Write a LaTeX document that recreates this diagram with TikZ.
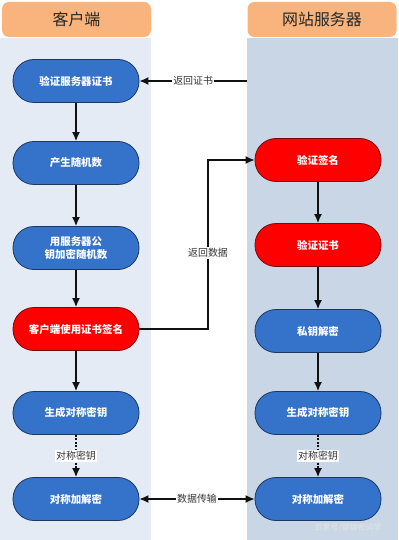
\documentclass[tikz,border=0pt]{standalone}
\usepackage{fontspec}
\setmainfont{Noto Sans CJK SC}
\usetikzlibrary{arrows.meta}
\definecolor{laneleft}{HTML}{E4EBF5}
\definecolor{laneright}{HTML}{C9D6E6}
\definecolor{headfill}{HTML}{F8B47C}
\definecolor{stepblue}{HTML}{3572C9}
\definecolor{stepblueline}{HTML}{1C3760}
\definecolor{stepred}{HTML}{FF0000}
\definecolor{stepredline}{HTML}{7A0A0A}
\definecolor{flowink}{HTML}{111111}

\begin{document}
\begin{tikzpicture}[
  x=1bp, y=-1bp,
  head/.style={fill=headfill, rounded corners=7bp, minimum width=149bp, minimum height=35bp,
    font=\fontsize{16}{18}\selectfont, text=black!85},
  bluebox/.style={draw=stepblueline, fill=stepblue, line width=0.8pt, rounded corners=21bp,
    minimum width=126bp, minimum height=43bp, align=center, text=white,
    font=\fontsize{10.5}{13}\selectfont\bfseries},
  redbox/.style={bluebox, draw=stepredline, fill=stepred},
  flow/.style={draw=flowink, line width=1.3pt, -{Latex[length=9bp,width=8bp]}},
  keyflow/.style={flow, dash pattern=on 2bp off 1.5bp},
  lbl/.style={fill=white, inner sep=1bp, font=\fontsize{10}{12}\selectfont, text=black!80},
]
\useasboundingbox (0,0) rectangle (398,540);

% ---- lanes ----
\fill[laneleft]  (0,38) rectangle (151,540);
\fill[laneright] (247,38) rectangle (398,540);
\node[head] (hC) at (76.5,19.5) {客户端};
\node[head] (hS) at (322,19.5) {网站服务器};

% column x-centers
\def\xL{76}
\def\xR{318}

% ---- client steps ----
\node[bluebox] (c1) at (\xL,81)  {验证服务器证书};
\node[bluebox] (c2) at (\xL,163) {产生随机数};
\node[bluebox] (c3) at (\xL,248) {用服务器公\\钥加密随机数};
\node[redbox]  (c4) at (\xL,329) {客户端使用证书签名};
\node[bluebox] (c5) at (\xL,413) {生成对称密钥};
\node[bluebox] (c6) at (\xL,499) {对称加解密};

% ---- server steps ----
\node[redbox]  (s1) at (\xR,160) {验证签名};
\node[redbox]  (s2) at (\xR,245) {验证证书};
\node[bluebox] (s3) at (\xR,331) {私钥解密};
\node[bluebox] (s4) at (\xR,413) {生成对称密钥};
\node[bluebox] (s5) at (\xR,499) {对称加解密};

\coordinate (srv) at (247,81);
\coordinate (turn) at (208,329);

% ---- connectors ----
\draw[flow] (srv) -- node[lbl] {返回证书} (c1);
\draw[flow] (c1) -- (c2);
\draw[flow] (c2) -- (c3);
\draw[flow] (c3) -- (c4);
\draw[flow] (c4) -- (c5);
\draw[keyflow] (c5) -- node[lbl] {对称密钥} (c6);

\draw[flow] (c4.east) -- (turn) |- node[lbl, pos=0.225] {返回数据} (s1.west);
\draw[flow] (s1) -- (s2);
\draw[flow] (s2) -- (s3);
\draw[flow] (s3) -- (s4);
\draw[keyflow] (s4) -- node[lbl] {对称密钥} (s5);

\draw[flow, {Latex[length=9bp,width=8bp]}-{Latex[length=9bp,width=8bp]}] (c6) -- node[lbl] {数据传输} (s5);

\node[font=\fontsize{8}{10}\selectfont, text=white!80!gray] (wm) at (348,528) {百家号/聊聊密码学};
\end{tikzpicture}
\end{document}
